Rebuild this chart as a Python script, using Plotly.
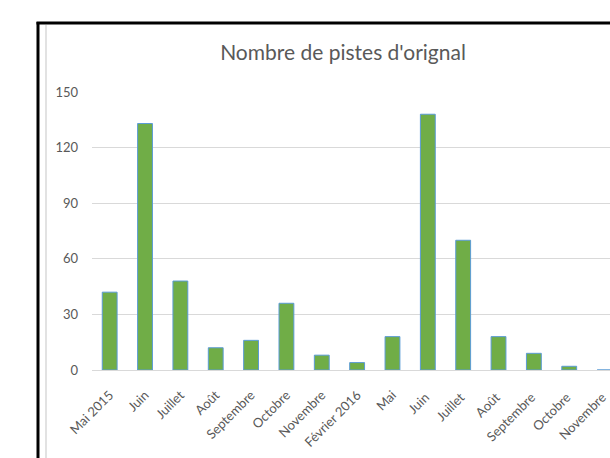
import plotly.graph_objects as go

categories = ["Mai 2015", "Juin", "Juillet", "Août", "Septembre", "Octobre", "Novembre",
              "Février 2016", "Mai", "Juin ", "Juillet ", "Août ", "Septembre ", "Octobre ", "Novembre "]
values = [42, 133, 48, 12, 16, 36, 8, 4, 18, 138, 70, 18, 9, 2, 0]
y_ticks = [0, 30, 60, 90, 120, 150]

W, H = 610, 458
L, R, T, B = 92, 0, 92, 88
PW, PH = W - L - R, H - T - B

def px(x):
    return (x - L) / PW

def py(y):
    return (H - B - y) / PH

fig = go.Figure()
fig.add_trace(go.Bar(
    x=list(range(len(categories))), y=values, width=0.42,
    marker=dict(color="#70AD47", line=dict(color="#5B9BD5", width=1)),
    hoverinfo="skip",
))

shapes = [
    dict(type="line", xref="paper", yref="paper", x0=px(38), x1=px(38), y0=py(22), y1=py(470),
         line=dict(color="black", width=3)),
    dict(type="line", xref="paper", yref="paper", x0=px(36.5), x1=px(640), y0=py(23), y1=py(23),
         line=dict(color="black", width=3)),
    dict(type="line", xref="paper", yref="paper", x0=px(46), x1=px(46), y0=py(25), y1=py(470),
         line=dict(color="#d9d9d9", width=1.5)),
]

fig.update_layout(
    width=W, height=H,
    margin=dict(l=L, r=R, t=T, b=B, pad=0),
    paper_bgcolor="white", plot_bgcolor="white",
    showlegend=False,
    bargap=0,
    title=dict(text="Nombre de pistes d'orignal", xref="container", yref="container",
               x=343 / W, xanchor="center", y=1 - 53 / H, yanchor="middle",
               font=dict(family="Lato", size=21, color="#595959")),
    xaxis=dict(range=[-0.5, -0.5 + PW / 35.35], tickmode="array",
               tickvals=list(range(len(categories))), ticktext=categories,
               tickangle=-45, showgrid=False, zeroline=False, showline=False, ticks="",
               ticklabelstandoff=14, ticklabeloverflow="allow",
               tickfont=dict(family="Lato", size=13, color="#595959")),
    yaxis=dict(range=[0, 150], tickvals=y_ticks, showgrid=True, gridcolor="#d9d9d9",
               gridwidth=1, zeroline=True, zerolinecolor="#d9d9d9", zerolinewidth=1,
               ticks="", ticklabelstandoff=13,
               tickfont=dict(family="Lato", size=13, color="#595959")),
    shapes=shapes,
)

fig.write_html("out.html", config={"displayModeBar": False, "staticPlot": True},
               post_script="document.body.style.margin='0';document.body.style.overflow='hidden';")
